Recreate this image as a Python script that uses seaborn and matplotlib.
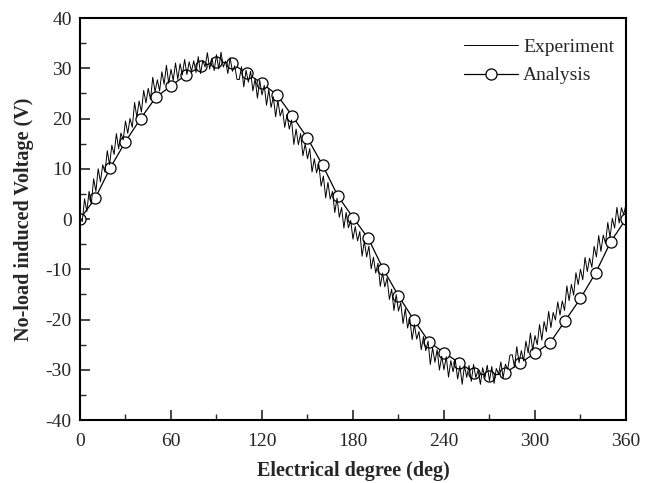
import numpy as np
import pandas as pd
import matplotlib
matplotlib.use("Agg")
import matplotlib.pyplot as plt
import seaborn as sns
from matplotlib.ticker import MultipleLocator

# ---- data ----
exp_step = 1.5  # degrees between experiment samples
experiment = [
    0.5, -0.5, 4.0, 1.5, 5.5, 3.0, 8.0, 5.5, 10.0, 7.4,
    10.8, 9.3, 13.6, 10.8, 14.7, 12.85, 17.0, 13.95, 17.1, 15.75,
    19.5, 17.05, 20.0, 18.25, 23.2, 20.25, 23.5, 21.3, 25.6, 23.1,
    26.0, 23.8, 28.2, 25.3, 27.7, 25.5, 29.3, 26.8, 30.6, 27.0,
    29.8, 27.6, 31.05, 27.8, 30.9, 28.7, 31.75, 28.75, 31.3, 29.35,
    31.5, 29.15, 32.3, 28.95, 31.6, 30.25, 33.1, 29.85, 32.0, 29.55,
    32.7, 29.85, 33.2, 30.25, 31.4, 28.95, 32.1, 29.4, 30.5, 27.8,
    27.75, 30.3, 26.3, 29.6, 27.25, 29.4, 25.5, 27.9, 24.05, 27.6,
    24.7, 26.6, 22.65, 25.8, 22.2, 24.3, 20.35, 23.6, 20.5, 21.9,
    18.25, 20.8, 17.9, 19.7, 14.85, 17.9, 14.8, 17.0, 12.6, 15.0,
    12.0, 14.0, 9.35, 12.0, 9.2, 10.9, 6.55, 8.55, 4.2, 7.3,
    3.95, 5.5, 1.3, 4.15, 0.35, 2.3, -1.8, 1.3, -1.75, -0.3,
    -4.0, -1.5, -4.35, -2.5, -7.4, -4.4, -7.55, -5.4, -9.9, -7.6,
    -10.75, -8.8, -13.4, -10.75, -13.5, -11.75, -16.0, -13.95, -18.2, -15.05,
    -18.3, -16.65, -20.8, -17.85, -21.7, -19.85, -24.0, -21.0, -23.9, -22.4,
    -26.0, -23.4, -26.2, -24.3, -28.95, -25.6, -28.5, -26.0, -30.05, -27.3,
    -30.0, -27.4, -31.45, -28.2, -30.4, -28.1, -31.85, -29.25, -32.9, -29.15,
    -31.5, -29.15, -32.3, -28.95, -31.55, -30.1, -32.9, -29.6, -31.65, -29.1,
    -32.2, -29.35, -32.7, -29.75, -30.9, -28.45, -31.6, -28.9, -29.9, -27.1,
    -27.0, -29.5, -25.4, -28.6, -26.2, -28.25, -24.3, -26.65, -22.7, -26.15,
    -23.2, -25.0, -21.0, -24.1, -20.4, -22.4, -18.4, -21.6, -18.6, -20.1,
    -16.5, -19.1, -16.3, -18.2, -13.3, -16.25, -13.0, -15.15, -10.7, -13.05,
    -10.0, -12.1, -7.65, -10.45, -7.8, -9.6, -5.45, -7.55, -3.3, -6.45,
    -3.2, -4.85, -0.7, -3.65, 0.15, -1.8, 2.3, -0.8, 2.25, 0.85,
    3.0,
]
analysis_deg = list(range(0, 361, 10))
analysis = [
    0.0, 4.1, 10.2, 15.4, 20.0, 24.2, 26.5, 28.7, 30.4, 31.3,
    31.0, 29.0, 27.0, 24.7, 20.5, 16.1, 10.7, 4.6, 0.3, -3.8,
    -10.0, -15.3, -20.0, -24.4, -26.6, -28.6, -30.6, -31.2, -30.7, -28.7,
    -26.7, -24.6, -20.2, -15.8, -10.7, -4.5, 0.0,
]
x_ticks = [0, 60, 120, 180, 240, 300, 360]
y_ticks = [-40, -30, -20, -10, 0, 10, 20, 30, 40]
x_label = "Electrical degree (deg)"
y_label = "No-load induced Voltage (V)"

exp_deg = np.arange(len(experiment)) * exp_step
df_exp = pd.DataFrame({"deg": exp_deg, "V": experiment})
df_ana = pd.DataFrame({"deg": analysis_deg, "V": analysis})

# ---- style ----
sns.set_style("ticks")
plt.rcParams["font.family"] = ["Liberation Serif", "DejaVu Serif"]
plt.rcParams["axes.unicode_minus"] = False

fig = plt.figure(figsize=(6.55, 4.83), dpi=100)
ax = fig.add_axes([0.1221, 0.1304, 0.8336, 0.8323])

sns.lineplot(data=df_ana, x="deg", y="V", ax=ax, color="black", lw=0.9,
             marker="o", markersize=8, markerfacecolor="white",
             markeredgecolor="black", markeredgewidth=0.9,
             label="Analysis", zorder=2, sort=False)
sns.lineplot(data=df_exp, x="deg", y="V", ax=ax, color="black", lw=0.7,
             label="Experiment", zorder=3, sort=False)

ax.set_xlim(0, 360)
ax.set_ylim(-40, 40)
ax.set_xticks(x_ticks)
ax.set_yticks(y_ticks)
ax.xaxis.set_minor_locator(MultipleLocator(30))
ax.yaxis.set_minor_locator(MultipleLocator(5))
ax.tick_params(which="major", direction="in", length=7, width=1.2,
               labelsize=14, top=False, right=False)
ax.tick_params(axis="x", which="major", pad=9)
ax.tick_params(axis="y", which="major", pad=6)
ax.tick_params(which="minor", direction="in", length=4, width=1.0,
               top=False, right=False)
for s in ax.spines.values():
    s.set_linewidth(1.5)
    s.set_color("black")

ax.set_xlabel(x_label, fontsize=14.5, fontweight="bold", labelpad=8)
ax.set_ylabel(y_label, fontsize=14.5, fontweight="bold", labelpad=8)

handles, labels = ax.get_legend_handles_labels()
order = [labels.index("Experiment"), labels.index("Analysis")]
ax.legend([handles[i] for i in order], [labels[i] for i in order],
          loc="upper right", bbox_to_anchor=(1.0, 0.978), frameon=False,
          fontsize=14, handlelength=2.8, handletextpad=0.25,
          borderaxespad=0.3, labelspacing=0.55, borderpad=0.3)

fig.savefig("out.png", dpi=100)
